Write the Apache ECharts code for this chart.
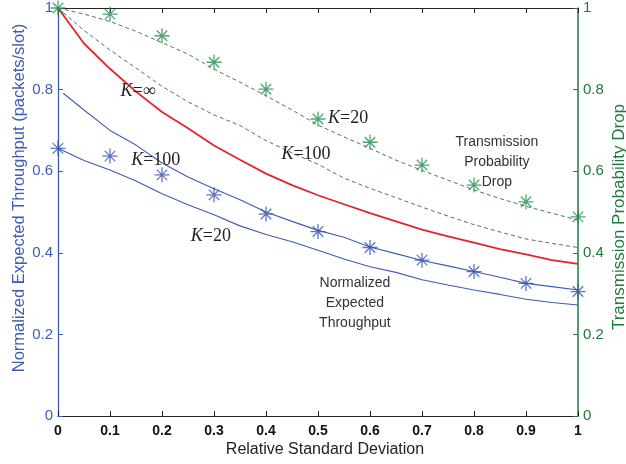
<!DOCTYPE html>
<html>
<head>
<meta charset="utf-8">
<script src="https://cdn.jsdelivr.net/npm/echarts@6/dist/echarts.min.js"></script>
<style>
  html, body { margin: 0; padding: 0; background: #ffffff; }
  #chart { width: 626px; height: 464px; }
</style>
</head>
<body>
<div id="chart"></div>
<script>
// Relative standard deviation grid used by the analytical curves
const sigmaGrid = [0, 0.05, 0.1, 0.15, 0.2, 0.25, 0.3, 0.35, 0.4, 0.45, 0.5,
                   0.55, 0.6, 0.65, 0.7, 0.75, 0.8, 0.85, 0.9, 0.95, 1];

// Normalized expected throughput, K = infinity (red)
const thrKInf = [1.0, 0.913, 0.851, 0.795, 0.745, 0.705, 0.663, 0.628, 0.594, 0.566, 0.541,
                 0.519, 0.497, 0.477, 0.457, 0.440, 0.425, 0.409, 0.396, 0.382, 0.373];

// Normalized expected throughput, K = 100 (curve begins just right of zero)
const sigmaK100 = [0.01, 0.05, 0.1, 0.15, 0.2, 0.25, 0.3, 0.35, 0.4, 0.45, 0.5,
                   0.55, 0.6, 0.65, 0.7, 0.75, 0.8, 0.85, 0.9, 0.95, 1];
const thrK100 = [0.791, 0.750, 0.700, 0.664, 0.620, 0.586, 0.557, 0.530, 0.500, 0.477, 0.455,
                 0.438, 0.414, 0.398, 0.381, 0.368, 0.354, 0.340, 0.325, 0.317, 0.309];

// Normalized expected throughput, K = 20
const thrK20 = [0.656, 0.626, 0.603, 0.576, 0.545, 0.518, 0.493, 0.466, 0.445, 0.427, 0.406,
                0.385, 0.366, 0.352, 0.334, 0.321, 0.309, 0.298, 0.286, 0.278, 0.272];

// Transmission probability drop, K = 20 and K = 100 (dashed)
const dropK20 = [1.0, 0.985, 0.967, 0.943, 0.915, 0.887, 0.850, 0.818, 0.785, 0.750, 0.713,
                 0.684, 0.656, 0.627, 0.602, 0.578, 0.554, 0.533, 0.514, 0.497, 0.480];
const dropK100 = [1.0, 0.945, 0.897, 0.853, 0.808, 0.770, 0.738, 0.712, 0.675, 0.645, 0.617,
                  0.583, 0.558, 0.535, 0.512, 0.490, 0.469, 0.451, 0.434, 0.423, 0.413];

// Simulation points
const simSigma = [0, 0.1, 0.2, 0.3, 0.4, 0.5, 0.6, 0.7, 0.8, 0.9, 1];
const simThroughput = [0.656, 0.637, 0.591, 0.542, 0.495, 0.452, 0.413, 0.382, 0.354, 0.325, 0.305];
const simDrop = [1.0, 0.985, 0.932, 0.867, 0.801, 0.728, 0.671, 0.615, 0.566, 0.525, 0.488];

// Axis ranges
const axisMin = 0, axisMax = 1, xStep = 0.1, yStep = 0.2;

// Axis titles
const xTitle = 'Relative Standard Deviation';
const yLeftTitle = 'Normalized Expected Throughput (packets/slot)';
const yRightTitle = 'Transmission Probability Drop';

// In-plot annotations, anchored in data coordinates
const curveLabels = [
  { k: '∞',  x: 0.154, y: 0.797 },
  { k: '100', x: 0.188, y: 0.627 },
  { k: '20',  x: 0.294, y: 0.441 },
  { k: '20',  x: 0.558, y: 0.730 },
  { k: '100', x: 0.477, y: 0.642 }
];
const blockLabels = [
  { text: 'Transmission\nProbability\nDrop', x: 0.844, y: 0.623 },
  { text: 'Normalized\nExpected\nThroughput', x: 0.571, y: 0.277 }
];

const BLUE = '#3c5cb6';
const BLUE_MARK = '#3452b0';
const RED = '#e3242b';
const GREEN_AXIS = '#1f7a3e';
const GREEN_LINE = '#3f7f52';
const GREEN_MARK = '#22904c';

const asterisk = 'path://M10,0L10,20M0,10L20,10M3,3L17,17M3,17L17,3';

const pairs = (xs, ys) => xs.map((x, i) => [x, ys[i]]);

const lineSeries = (name, xs, ys, color, width, dashed, yIdx) => ({
  name, type: 'line', xAxisIndex: 0, yAxisIndex: yIdx,
  data: pairs(xs, ys), symbol: 'none', smooth: false,
  lineStyle: { color, width, type: dashed ? [4, 3] : 'solid' },
  z: 3, silent: true
});

const markSeries = (name, xs, ys, color, yIdx) => ({
  name, type: 'scatter', xAxisIndex: 0, yAxisIndex: yIdx,
  data: pairs(xs, ys), symbol: asterisk, symbolSize: 15,
  itemStyle: { color: 'rgba(0,0,0,0)', borderColor: color, borderWidth: 1.3 },
  z: 4, silent: true
});

const chart = echarts.init(document.getElementById('chart'), null, { renderer: 'canvas' });

chart.setOption({
  animation: false,
  backgroundColor: '#ffffff',
  grid: { left: 58, right: 48, top: 8, bottom: 48, containLabel: false, outerBoundsMode: 'none' },
  xAxis: [
    {
      type: 'value', position: 'bottom', min: axisMin, max: axisMax, interval: xStep,
      axisLine: { onZero: false, lineStyle: { color: '#222', width: 1.2 } },
      axisTick: { inside: true, length: 5, lineStyle: { color: '#222' } },
      axisLabel: { color: '#111', fontSize: 14, fontWeight: 'bold', margin: 8, fontFamily: 'Liberation Sans' },
      splitLine: { show: false }
    },
    {
      type: 'value', position: 'top', min: axisMin, max: axisMax, interval: xStep,
      axisLine: { onZero: false, lineStyle: { color: '#222', width: 1.2 } },
      axisTick: { inside: true, length: 5, lineStyle: { color: '#222' } },
      axisLabel: { show: false },
      splitLine: { show: false }
    }
  ],
  yAxis: [
    {
      type: 'value', position: 'left', min: axisMin, max: axisMax, interval: yStep,
      axisLine: { show: true, onZero: false, lineStyle: { color: BLUE, width: 1.3 } },
      axisTick: { show: true, inside: true, length: 5, lineStyle: { color: BLUE } },
      axisLabel: { color: BLUE, fontSize: 15, margin: 5, fontFamily: 'Liberation Sans' },
      splitLine: { show: false }
    },
    {
      type: 'value', position: 'right', min: axisMin, max: axisMax, interval: yStep,
      axisLine: { show: true, onZero: false, lineStyle: { color: GREEN_AXIS, width: 1.5 } },
      axisTick: { show: true, inside: true, length: 5, lineStyle: { color: GREEN_AXIS } },
      axisLabel: { color: GREEN_AXIS, fontSize: 15, margin: 5, fontFamily: 'Liberation Sans' },
      splitLine: { show: false }
    }
  ],
  series: [
    lineSeries('drop K=20', sigmaGrid, dropK20, GREEN_LINE, 1, true, 1),
    lineSeries('drop K=100', sigmaGrid, dropK100, GREEN_LINE, 1, true, 1),
    lineSeries('throughput K=inf', sigmaGrid, thrKInf, RED, 1.8, false, 0),
    lineSeries('throughput K=100', sigmaK100, thrK100, BLUE, 1.1, false, 0),
    lineSeries('throughput K=20', sigmaGrid, thrK20, BLUE, 1.1, false, 0),
    markSeries('drop simulation', simSigma, simDrop, GREEN_MARK, 1),
    markSeries('throughput simulation', simSigma, simThroughput, BLUE_MARK, 0)
  ]
});

// Place the curve and block annotations at their data positions
const toPx = (x, y) => chart.convertToPixel({ xAxisIndex: 0, yAxisIndex: 0 }, [x, y]);
const graphics = [];
curveLabels.forEach(l => {
  const p = toPx(l.x, l.y);
  graphics.push({
    type: 'text', x: p[0], y: p[1], z: 10, silent: true,
    style: {
      text: '{i|K}{n|=' + l.k + '}',
      align: 'center', verticalAlign: 'middle',
      rich: {
        i: { fontFamily: 'Liberation Serif', fontStyle: 'italic', fontSize: 18, fill: '#222' },
        n: { fontFamily: 'Liberation Serif', fontSize: 18, fill: '#222' }
      }
    }
  });
});
blockLabels.forEach(l => {
  const p = toPx(l.x, l.y);
  graphics.push({
    type: 'text', x: p[0], y: p[1], z: 10, silent: true,
    style: {
      text: l.text, align: 'center', verticalAlign: 'middle',
      fontFamily: 'Liberation Sans', fontSize: 14, lineHeight: 20, fill: '#333'
    }
  });
});

// Axis titles
graphics.push({
  type: 'text', x: 325, y: 450, silent: true,
  style: { text: xTitle, align: 'center', verticalAlign: 'middle',
           fontFamily: 'Liberation Sans', fontSize: 16, fill: '#222' }
});
graphics.push({
  type: 'text', x: 19, y: 198, rotation: Math.PI / 2, silent: true,
  style: { text: yLeftTitle, align: 'center', verticalAlign: 'middle',
           fontFamily: 'Liberation Sans', fontSize: 16.5, fill: BLUE }
});
graphics.push({
  type: 'text', x: 619, y: 217, rotation: Math.PI / 2, silent: true,
  style: { text: yRightTitle, align: 'center', verticalAlign: 'middle',
           fontFamily: 'Liberation Sans', fontSize: 17, fill: GREEN_AXIS }
});
chart.setOption({ graphic: graphics });
</script>
</body>
</html>
